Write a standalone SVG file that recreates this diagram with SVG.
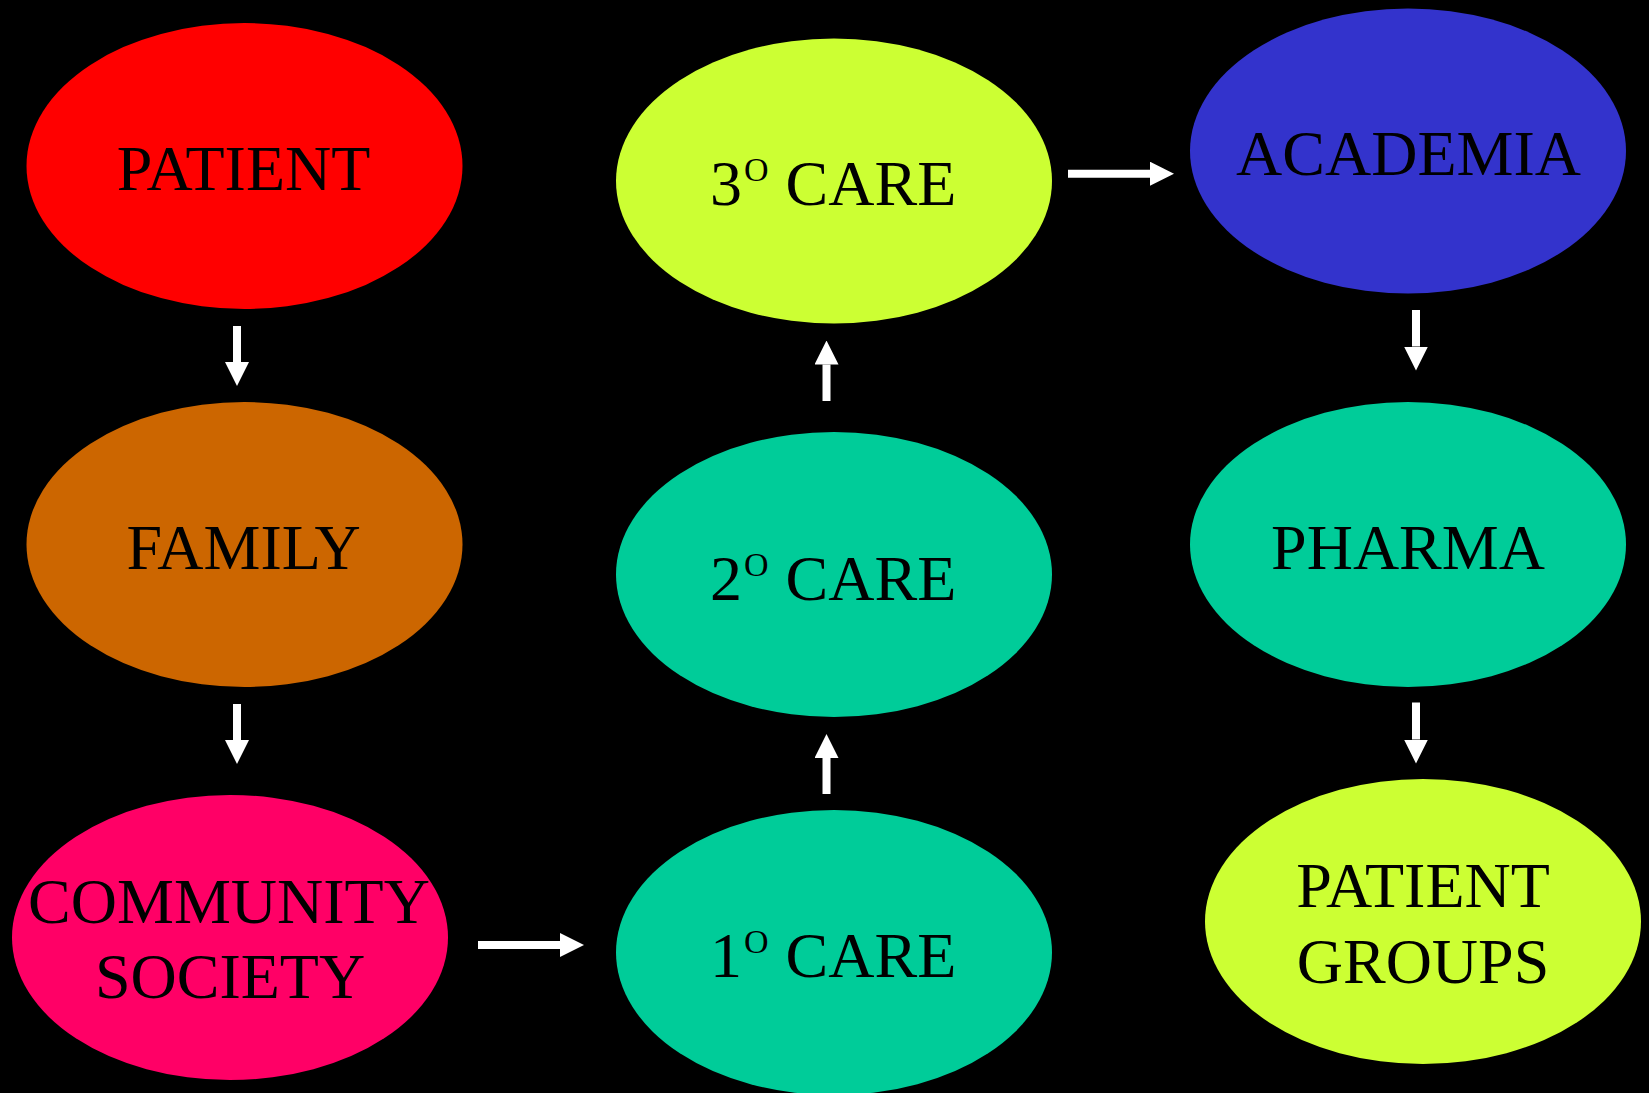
<svg xmlns="http://www.w3.org/2000/svg" width="1649" height="1093" viewBox="0 0 1649 1093">
  <style>
    .lbl { font-family: "Liberation Serif", "Times New Roman", serif; font-size: 64px; fill: #000000; text-anchor: middle; }
    .care { text-anchor: start; }
    .sup { font-size: 34px; }
    .conn { stroke: #FFFFFF; stroke-width: 8; fill: none; marker-end: url(#head); }
  </style>
  <defs>
    <marker id="head" markerUnits="userSpaceOnUse" markerWidth="24" markerHeight="24" viewBox="0 0 24 24" refX="0" refY="12" orient="auto">
      <path d="M0,0 L24,12 L0,24 z" fill="#FFFFFF"/>
    </marker>
  </defs>
  <rect x="0" y="0" width="1649" height="1093" fill="#000000"/>

  <g id="connectors">
    <line class="conn" x1="237" y1="326" x2="237" y2="362"/>
    <line class="conn" x1="237" y1="704" x2="237" y2="740"/>
    <line class="conn" x1="478" y1="945" x2="560" y2="945"/>
    <line class="conn" x1="826.5" y1="794" x2="826.5" y2="758"/>
    <line class="conn" x1="826.5" y1="401" x2="826.5" y2="364.5"/>
    <line class="conn" x1="1068" y1="173.7" x2="1150" y2="173.7"/>
    <line class="conn" x1="1416" y1="310" x2="1416" y2="346.5"/>
    <line class="conn" x1="1416" y1="702.5" x2="1416" y2="739.5"/>
  </g>

  <g id="patient">
    <ellipse cx="244.5" cy="166" rx="218" ry="143" fill="#FF0000"/>
    <text class="lbl" x="243.5" y="190">PATIENT</text>
  </g>
  <g id="family">
    <ellipse cx="244.5" cy="544.5" rx="218" ry="142.5" fill="#CC6600"/>
    <text class="lbl" x="243.5" y="569">FAMILY</text>
  </g>
  <g id="community-society">
    <ellipse cx="230" cy="937.5" rx="218" ry="142.5" fill="#FF0066"/>
    <text class="lbl" x="229" y="922.7">COMMUNITY</text>
    <text class="lbl" x="230" y="998.3">SOCIETY</text>
  </g>
  <g id="tertiary-care">
    <ellipse cx="834" cy="181" rx="218" ry="142.5" fill="#CCFF33"/>
    <text class="lbl care" x="710" y="205">3<tspan class="sup" dx="2" dy="-24">O</tspan><tspan dx="1" dy="24"> CARE</tspan></text>
  </g>
  <g id="secondary-care">
    <ellipse cx="834" cy="574.5" rx="218" ry="142.5" fill="#00CC99"/>
    <text class="lbl care" x="710" y="599.5">2<tspan class="sup" dx="2" dy="-24">O</tspan><tspan dx="1" dy="24"> CARE</tspan></text>
  </g>
  <g id="primary-care">
    <ellipse cx="834" cy="952.5" rx="218" ry="142.5" fill="#00CC99"/>
    <text class="lbl care" x="710" y="977">1<tspan class="sup" dx="2" dy="-24">O</tspan><tspan dx="1" dy="24"> CARE</tspan></text>
  </g>
  <g id="academia">
    <ellipse cx="1408" cy="151" rx="218" ry="142.5" fill="#3333CC"/>
    <text class="lbl" x="1408.5" y="175">ACADEMIA</text>
  </g>
  <g id="pharma">
    <ellipse cx="1408" cy="544.5" rx="218" ry="142.5" fill="#00CC99"/>
    <text class="lbl" x="1408" y="569">PHARMA</text>
  </g>
  <g id="patient-groups">
    <ellipse cx="1423" cy="921.5" rx="218" ry="142.5" fill="#CCFF33"/>
    <text class="lbl" x="1423" y="906.5">PATIENT</text>
    <text class="lbl" x="1423" y="983">GROUPS</text>
  </g>
</svg>
